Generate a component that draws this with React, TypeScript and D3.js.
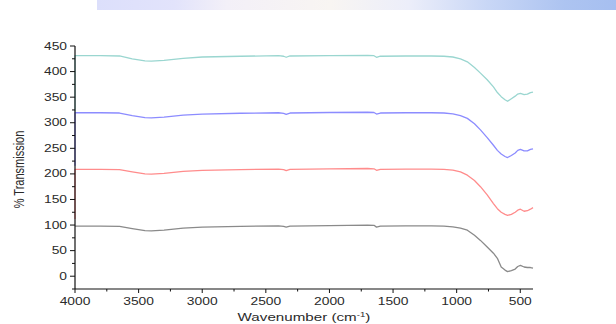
import React from "react";
import * as d3 from "d3";

// Wavenumbers (cm^-1) shared by all four spectra
const wavenumbers = [4000, 3800, 3650, 3550, 3450, 3400, 3300, 3150, 3000, 2700, 2400, 2360, 2340, 2310, 2000, 1700, 1650, 1630, 1600, 1400, 1200, 1100, 1030, 970, 916, 860, 813, 760, 711, 680, 650, 620, 600, 570, 540, 520, 499, 470, 444, 420, 400];

const grayValues = [98, 98, 97.5, 93, 89, 88.5, 90, 94, 96, 97.5, 98.5, 97.5, 96, 98, 99, 100, 99.5, 96, 98, 98.5, 98.5, 98, 96.5, 94, 90, 80, 70, 57, 45, 35, 18, 12, 9, 11, 14, 19, 21, 18, 17, 17, 16];
const redValues = [209, 209, 208.5, 204, 200, 199.5, 201, 205, 207, 208.5, 209.5, 208.5, 206.5, 209, 210, 210.5, 210, 207, 209, 209.5, 209.5, 209, 207.5, 204, 197.5, 187, 175, 159, 142, 132, 125, 121, 119, 121, 125, 129, 131, 127, 128, 131, 134];
const blueValues = [319.5, 319.5, 319, 314, 310, 309.5, 311, 315, 317, 318.5, 319.5, 318.5, 316.5, 319, 320, 320.5, 320, 317, 319, 319.5, 319.5, 319, 317.5, 314, 308.5, 298, 286, 271, 256, 246, 239, 234, 232, 236, 241, 246, 248, 245, 245, 248, 249];
const tealValues = [431, 431, 430.5, 425, 421, 420.5, 422, 426, 428.5, 430, 431, 430, 428, 430.5, 431, 431.5, 431, 428, 430, 430.5, 430.5, 430, 428.5, 425, 419, 408, 397, 384, 370, 359, 351, 345, 342, 347, 352, 356, 357.5, 355, 356, 359, 360];

// value each trace starts from at 4000 cm^-1 (vertical jump seen on the axis)
const startValues = [null, 112, 216, 322];

const seriesColors = ["#8a8a8a", "#ff8c8c", "#8c8cff", "#9ad6d0"];
const seriesValues = [grayValues, redValues, blueValues, tealValues];

const xTicks = [4000, 3500, 3000, 2500, 2000, 1500, 1000, 500];
const xMinorTicks = [3750, 3250, 2750, 2250, 1750, 1250, 750];
const yTicks = [0, 50, 100, 150, 200, 250, 300, 350, 400, 450];
const yMinorTicks = [-25, 25, 75, 125, 175, 225, 275, 325, 375, 425];

const W = 616;
const H = 324;
const left = 75;
const right = 533;
const top = 46;
const bottom = 289;

export default function App() {
  const x = d3.scaleLinear().domain([4000, 400]).range([left, right]);
  const y = d3.scaleLinear().domain([-25, 450]).range([bottom, top]);

  const line = d3
    .line<[number, number]>()
    .x((d) => x(d[0]))
    .y((d) => y(d[1]))
    .curve(d3.curveLinear);

  const font = "'Liberation Sans', Arial, sans-serif";
  const textColor = "#2a2a2a";
  const sx = 1.38;

  return (
    <>
      <style>{`body{margin:0}`}</style>
      <svg width={W} height={H} style={{ display: "block", background: "#fff" }}>
        <defs>
          <linearGradient id="band" x1="0" x2="1" y1="0" y2="0">
            <stop offset="0" stopColor="#dcdffb" />
            <stop offset="0.15" stopColor="#e2e3fb" />
            <stop offset="0.25" stopColor="#f3f0f8" />
            <stop offset="0.45" stopColor="#f8f5f2" />
            <stop offset="0.6" stopColor="#eceefa" />
            <stop offset="0.75" stopColor="#c9d7f6" />
            <stop offset="0.9" stopColor="#adc4f1" />
            <stop offset="1" stopColor="#a6bff0" />
          </linearGradient>
        </defs>
        <rect x={97} y={0} width={W - 97} height={10} fill="url(#band)" />

        {/* series */}
        {seriesValues.map((vals, i) => {
          const pts: [number, number][] = wavenumbers.map((w, j) => [w, vals[j]]);
          const s = startValues[i];
          if (s !== null) pts.unshift([4000, s]);
          return (
            <path
              key={i}
              d={line(pts) || ""}
              fill="none"
              stroke={seriesColors[i]}
              strokeWidth={1.3}
              strokeLinejoin="round"
            />
          );
        })}

        {/* axes */}
        <line x1={left} x2={left} y1={top} y2={bottom} stroke="#111" strokeWidth={1.2} />
        <line x1={left} x2={right} y1={bottom} y2={bottom} stroke="#111" strokeWidth={1.2} />

        {yTicks.map((t) => (
          <g key={"y" + t}>
            <line x1={left - 5} x2={left} y1={y(t)} y2={y(t)} stroke="#111" strokeWidth={1} />
            <text
              transform={`translate(${left - 8},${y(t) + 3.5}) scale(${sx},1)`}
              textAnchor="end"
              fontFamily={font}
              fontSize={10}
              fill={textColor}
            >
              {t}
            </text>
          </g>
        ))}
        {yMinorTicks.map((t) => (
          <line key={"ym" + t} x1={left - 3} x2={left} y1={y(t)} y2={y(t)} stroke="#111" strokeWidth={1} />
        ))}

        {xTicks.map((t) => (
          <g key={"x" + t}>
            <line x1={x(t)} x2={x(t)} y1={bottom} y2={bottom + 4} stroke="#111" strokeWidth={1} />
            <text
              transform={`translate(${x(t)},${bottom + 15.5}) scale(${sx},1)`}
              textAnchor="middle"
              fontFamily={font}
              fontSize={10}
              fill={textColor}
            >
              {t}
            </text>
          </g>
        ))}
        {xMinorTicks.map((t) => (
          <line key={"xm" + t} x1={x(t)} x2={x(t)} y1={bottom} y2={bottom + 2.5} stroke="#111" strokeWidth={1} />
        ))}

        <text
          transform={`translate(${(left + right) / 2},${H - 3}) scale(${sx},1)`}
          textAnchor="middle"
          fontFamily={font}
          fontSize={11}
          fill={textColor}
        >
          Wavenumber (cm
          <tspan dy={-4} fontSize={7}>-1</tspan>
          <tspan dy={4}>)</tspan>
        </text>

        <text
          transform={`translate(24,${(top + bottom) / 2 + 2}) rotate(-90) scale(1,${sx})`}
          textAnchor="middle"
          fontFamily={font}
          fontSize={11}
          fill={textColor}
        >
          % Transmission
        </text>
      </svg>
    </>
  );
}
